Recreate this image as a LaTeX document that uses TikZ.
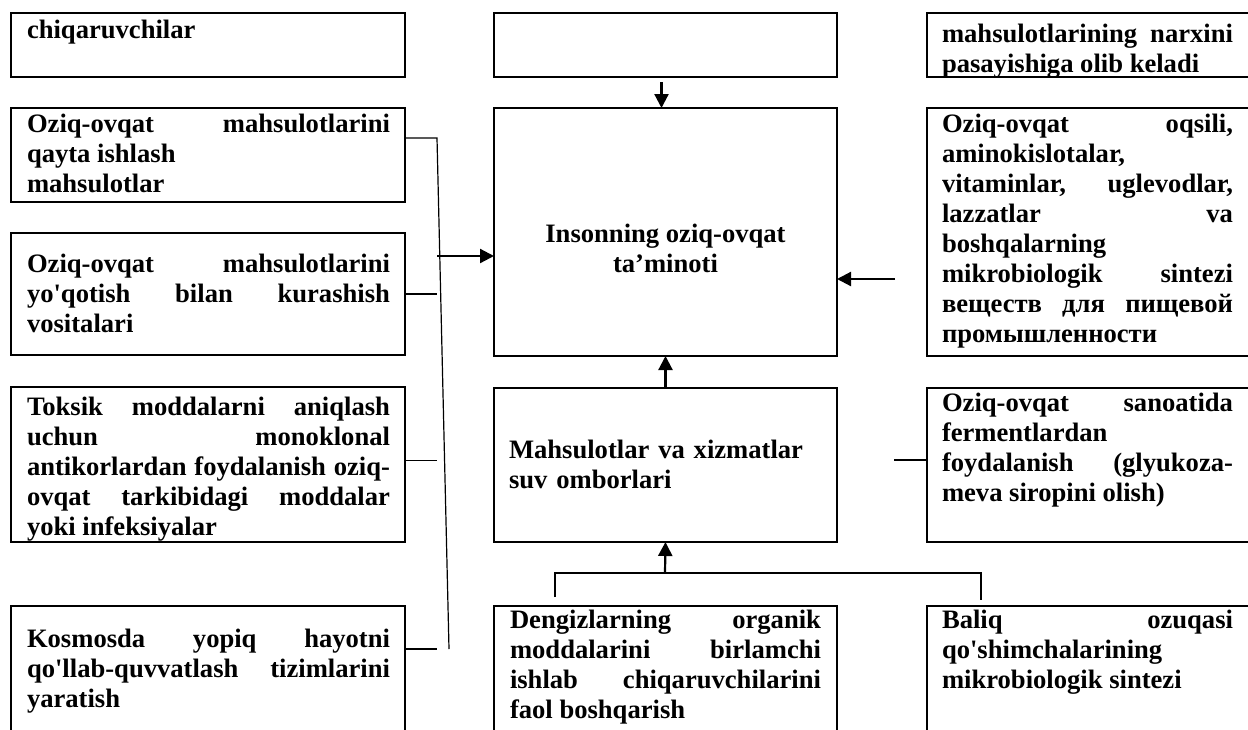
\documentclass[tikz,border=0pt]{standalone}
\usepackage{fontspec}
\setmainfont{Liberation Serif}[Ligatures=TeXOff]
\usepackage{tikz}
\usetikzlibrary{arrows.meta,positioning}
\definecolor{ink}{RGB}{0,0,0}
\tikzset{
  box/.style={draw=ink, line width=1.2pt, anchor=north west, inner sep=0pt, outer sep=0pt},
  txt/.style={inner sep=0pt, outer sep=0pt, align=justify, text=ink, font=\bfseries\fontsize{13.3}{15}\selectfont},
  link/.style={draw=ink, line width=0.75pt},
  arr/.style={draw=ink, line width=1.1pt, -{Triangle[length=7pt,width=7pt]}},
}
\tolerance=10000
\hbadness=10000

\begin{document}
\begin{tikzpicture}[x=0.5pt,y=-0.5pt]
\path[use as bounding box, fill=white] (0,0) rectangle (1248,729);
\clip (0,0) rectangle (1248,729);

\node[box, minimum width=197pt, minimum height=32pt] (l0) at (11,13) {};
\node[box, minimum width=197pt, minimum height=47pt] (l1) at (11,108) {};
\node[box, minimum width=197pt, minimum height=61pt] (l2) at (11,233) {};
\node[box, minimum width=197pt, minimum height=77.5pt] (l3) at (11,387) {};
\node[box, minimum width=197pt, minimum height=77pt] (l4) at (11,606) {};

\node[box, minimum width=171.5pt, minimum height=32pt] (c0) at (494,13) {};
\node[box, minimum width=171.5pt, minimum height=124pt] (c1) at (494,108) {};
\node[box, minimum width=171.5pt, minimum height=77pt] (c2) at (494,388) {};
\node[box, minimum width=171.5pt, minimum height=77pt] (c3) at (494,606) {};

\node[box, minimum width=169pt, minimum height=32pt] (r0) at (927,13) {};
\node[box, minimum width=169pt, minimum height=124pt] (r1) at (927,108) {};
\node[box, minimum width=169pt, minimum height=77pt] (r2) at (927,388) {};
\node[box, minimum width=169pt, minimum height=77pt] (r3) at (927,606) {};

\node[txt, text width=181.5pt, below right=3.5pt and 8pt of l0.north west] (l0t) {chiqaruvchilar};
\node[txt, text width=181.5pt, below right=3pt and 8pt of l1.north west] (l1t)
  {Oziq-ovqat mahsulotlarini\linebreak qayta ishlash\newline mahsulotlar};
\node[txt, text width=181.5pt, below right=10.5pt and 8pt of l2.north west] (l2t)
  {Oziq-ovqat mahsulotlarini\linebreak yo'qotish bilan kurashish\linebreak vositalari};
\node[txt, text width=181.5pt, below right=5pt and 8pt of l3.north west] (l3t)
  {Toksik moddalarni aniqlash\linebreak uchun monoklonal\linebreak antikorlardan foydalanish oziq-\linebreak ovqat tarkibidagi moddalar\linebreak yoki infeksiyalar};
\node[txt, text width=181.5pt, below right=11.5pt and 8pt of l4.north west] (l4t)
  {Kosmosda yopiq hayotni\linebreak qo'llab-quvvatlash tizimlarini\linebreak yaratish};

\node[txt, align=center, below=58pt of c1.north] (c1t) {Insonning oziq-ovqat\\ta’minoti};
\node[txt, align=left, text width=155.5pt, below right=26pt and 7.5pt of c2.north west] (c2t)
  {Mahsulotlar va xizmatlar\\suv omborlari};
\node[txt, text width=155.5pt, below right=2pt and 8pt of c3.north west] (c3t)
  {Dengizlarning organik\linebreak moddalarini birlamchi\linebreak ishlab chiqaruvchilarini\linebreak faol boshqarish};

\node[txt, text width=145.5pt, below right=5.5pt and 7.5pt of r0.north west] (r0t)
  {mahsulotlarining narxini\linebreak pasayishiga olib keladi};
\node[txt, text width=145.5pt, below right=3pt and 7.5pt of r1.north west] (r1t)
  {Oziq-ovqat oqsili,\linebreak aminokislotalar,\newline vitaminlar, uglevodlar,\linebreak lazzatlar va\linebreak boshqalarning\newline mikrobiologik sintezi\linebreak веществ для пищевой\linebreak промышленности};
\node[txt, text width=145.5pt, below right=2.5pt and 7.5pt of r2.north west] (r2t)
  {Oziq-ovqat sanoatida\linebreak fermentlardan\newline foydalanish (glyukoza-\linebreak meva siropini olish)};
\node[txt, text width=145.5pt, below right=2pt and 7.5pt of r3.north west] (r3t)
  {Baliq ozuqasi\linebreak qo'shimchalarining\newline mikrobiologik sintezi};

\coordinate (bustop) at (437,138);
\coordinate (busbot) at (449,649);
\draw[link, line width=0.6pt] (l1.north east) ++(0,30) -- (bustop) -- (busbot);
\draw[link] (l2.east) -- (l2.east -| bustop);
\draw[link] ([yshift=2pt]l3.east) -- ([yshift=2pt]l3.east -| bustop);
\draw[link] (l4.north east |- busbot) -- (bustop |- busbot);
\draw[arr] (bustop |- 0,256) -- ([yshift=-12pt]c1.west);

\draw[arr] ([xshift=-2pt,yshift=-2.5pt]c0.south) -- ([xshift=-2pt]c1.north);
\draw[arr] ([xshift=-16pt,yshift=-23.5pt]r1.west) -- ([yshift=-23.5pt]c1.east);
\draw[arr] (c2.north) -- (c1.south);
\draw[link, line width=1pt] ([xshift=-16.5pt,yshift=2.5pt]r2.west) -- ([yshift=2.5pt]r2.west);

\coordinate (brl) at (555,597);
\coordinate (brtop) at (665,573);
\coordinate (brr) at (981,600);
\draw[link, line width=1pt] (brl) |- (brtop) -| (brr);
\draw[arr] (brtop) -- (c2.south);
\end{tikzpicture}
\end{document}
